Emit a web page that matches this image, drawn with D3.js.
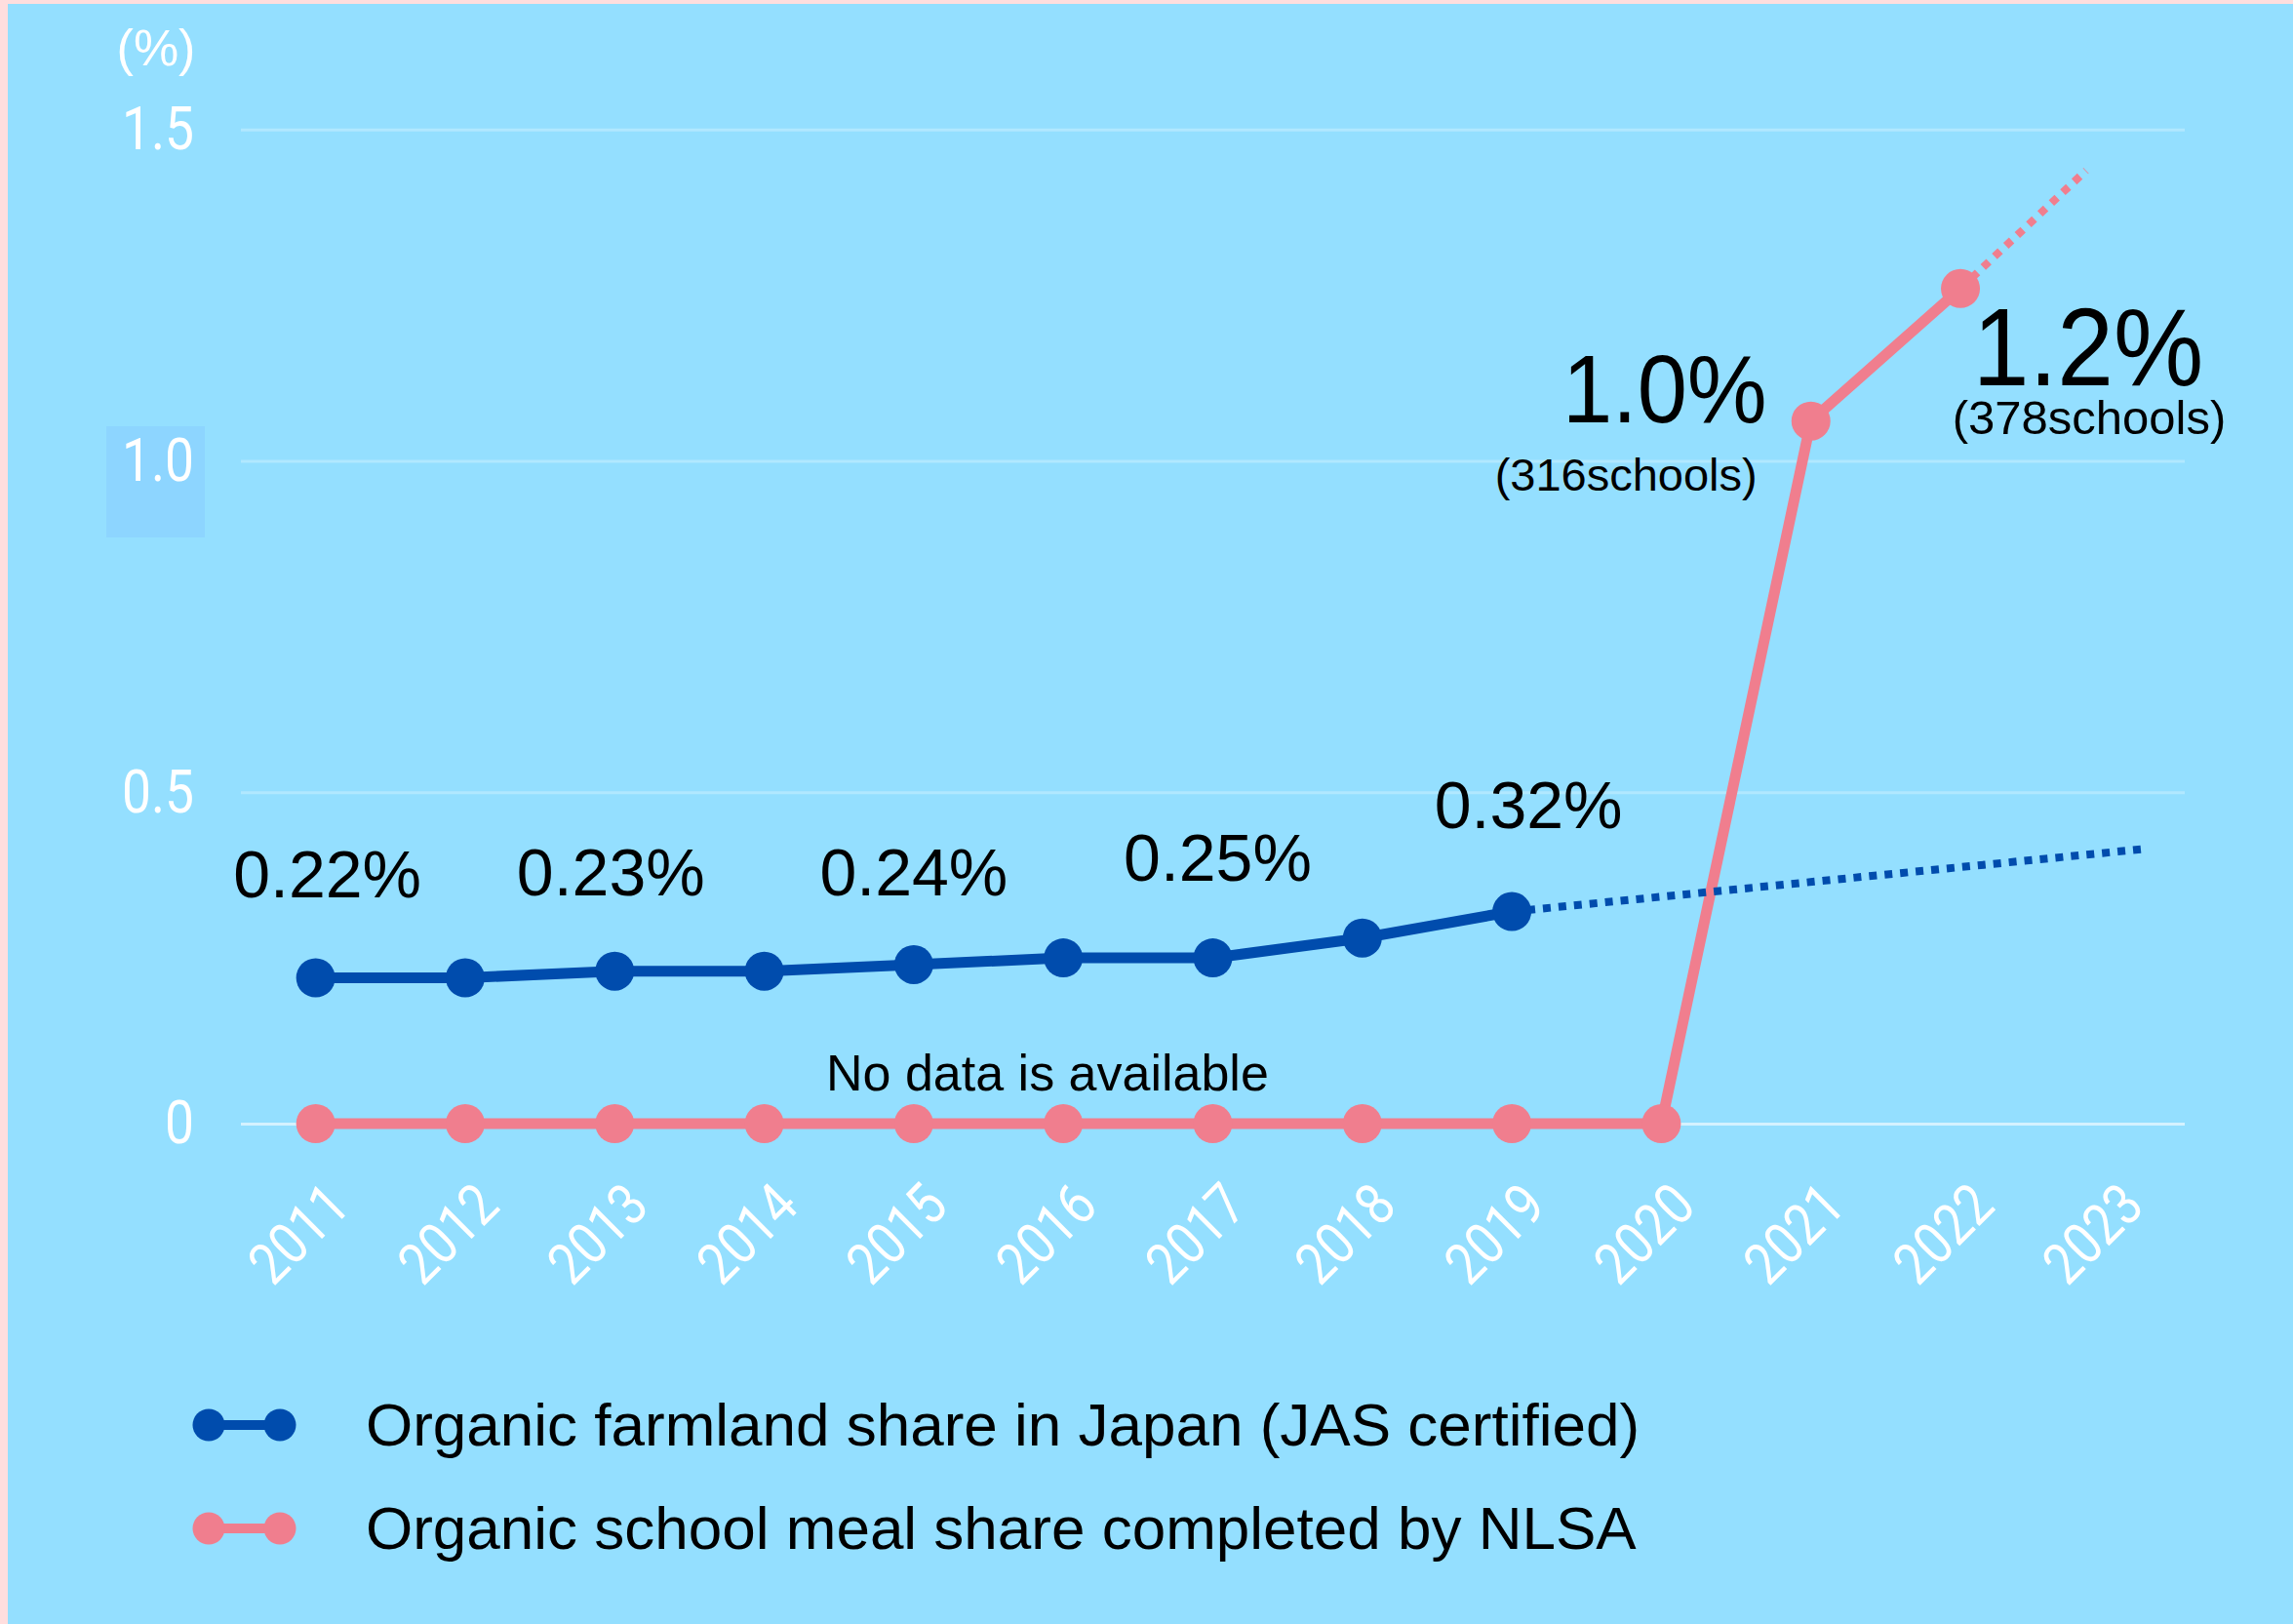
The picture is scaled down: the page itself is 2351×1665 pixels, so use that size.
<!DOCTYPE html>
<html><head><meta charset="utf-8">
<script src="https://cdn.jsdelivr.net/npm/d3@7"></script>
<style>
html,body{margin:0;padding:0;background:#FFDEDE;}
svg{display:block;}
</style>
</head><body>
<svg id="chart" width="2351" height="1665"></svg>
<script>
// ---------- data ----------
const years = [2011,2012,2013,2014,2015,2016,2017,2018,2019,2020,2021,2022,2023];
const farmlandYears = [2011,2012,2013,2014,2015,2016,2017,2018,2019];
const farmlandShare = [0.22,0.22,0.23,0.23,0.24,0.25,0.25,0.28,0.32];
const schoolYears = [2011,2012,2013,2014,2015,2016,2017,2018,2019,2020,2021,2022];
const schoolMealShare = [0,0,0,0,0,0,0,0,0,0,1.06,1.26];
const farmlandTrendYears = [2019, 2023.21];
const farmlandTrend = [0.32, 0.414];
const schoolTrendYears = [2022, 2022.84];
const schoolTrend = [1.26, 1.438];
const yTicks = [0, 0.5, 1.0, 1.5];
const yTickLabels = ["0", "0.5", "1.0", "1.5"];
const farmlandLabelYears = [2011, 2013, 2015, 2017, 2019];
const farmlandLabels = ["0.22%", "0.23%", "0.24%", "0.25%", "0.32%"];
const schoolLabelYears = [2021, 2022];
const schoolLabels = ["1.0%", "1.2%"];
const schoolCounts = ["(316schools)", "(378schools)"];
const seriesNames = ["Organic farmland share in Japan (JAS certified)", "Organic school meal share completed by NLSA"];
const noDataText = "No data is available";
const unitText = "(%)";

// ---------- layout / style ----------
const W = 2351, H = 1665;
const BLUE = "#004CAD", PINK = "#F07E8E", BG = "#94DFFF";
const labelNudge = [[12,-83],[-4,-78],[0,-71],[5,-79],[17,-86]];

const svg = d3.select("#chart");
svg.append("rect").attr("x", 8).attr("y", 4).attr("width", W - 8).attr("height", H - 4).attr("fill", BG);

const x = d3.scaleLinear().domain([2010.5, 2023.5]).range([247, 2240]);
const y = d3.scaleLinear().domain([0, 1.5]).range([1152, 132.7]);

// subtle highlight box behind "1.0"
svg.append("rect").attr("x", 109).attr("y", 437).attr("width", 101).attr("height", 114).attr("fill", "#8DD5FF");

// y axis with gridlines
const yAxis = d3.axisLeft(y).tickValues(yTicks)
  .tickFormat((d, i) => yTickLabels[i])
  .tickSize(-(2240 - 247)).tickPadding(48);
const gy = svg.append("g").attr("transform", "translate(247,0)").call(yAxis);
gy.select(".domain").remove();
gy.selectAll(".tick line")
  .attr("stroke", d => d === 0 ? "rgba(255,255,255,0.6)" : "rgba(255,255,255,0.28)")
  .attr("stroke-width", 3);
const ySx = 0.86;
gy.selectAll(".tick text")
  .attr("x", -48 / ySx)
  .attr("transform", `scale(${ySx},1)`)
  .attr("fill", "#fff")
  .attr("font-family", "Roboto")
  .attr("font-weight", 400)
  .attr("font-size", 62);

// unit label
svg.append("text").attr("x", 160).attr("y", 67).attr("text-anchor", "middle")
  .attr("font-family", "Liberation Sans").attr("font-size", 52).attr("fill", "#fff").text(unitText);

// x axis
const xAxis = d3.axisBottom(x).tickValues(years).tickFormat(d3.format("d")).tickSize(0);
const gx = svg.append("g").attr("transform", "translate(0,1152)").call(xAxis);
gx.select(".domain").remove();
gx.selectAll(".tick text")
  .attr("x", 0).attr("y", 0).attr("dy", 0)
  .attr("text-anchor", "end")
  .attr("transform", "translate(37,87) rotate(-45) scale(0.85,1)")
  .attr("fill", "#fff")
  .attr("font-family", "Roboto")
  .attr("font-size", 60);

const line = d3.line().x(d => x(d[0])).y(d => y(d[1]));

const schoolPts = schoolYears.map((yr, i) => [yr, schoolMealShare[i]]);
const farmPts = farmlandYears.map((yr, i) => [yr, farmlandShare[i]]);
const schoolTrendPts = schoolTrendYears.map((yr, i) => [yr, schoolTrend[i]]);
const farmTrendPts = farmlandTrendYears.map((yr, i) => [yr, farmlandTrend[i]]);

// pink series
svg.append("path").attr("d", line(schoolTrendPts)).attr("fill", "none")
  .attr("stroke", PINK).attr("stroke-width", 8).attr("stroke-dasharray", "8 8");
svg.append("path").attr("d", line(schoolPts)).attr("fill", "none")
  .attr("stroke", PINK).attr("stroke-width", 11).attr("stroke-linejoin", "round");

// blue series
svg.append("path").attr("d", line(farmTrendPts)).attr("fill", "none")
  .attr("stroke", BLUE).attr("stroke-width", 8).attr("stroke-dasharray", "8 8");
svg.append("path").attr("d", line(farmPts)).attr("fill", "none")
  .attr("stroke", BLUE).attr("stroke-width", 11).attr("stroke-linejoin", "round");

svg.append("g").selectAll("circle").data(schoolPts).join("circle")
  .attr("cx", d => x(d[0])).attr("cy", d => y(d[1])).attr("r", 20).attr("fill", PINK);
svg.append("g").selectAll("circle").data(farmPts).join("circle")
  .attr("cx", d => x(d[0])).attr("cy", d => y(d[1])).attr("r", 20).attr("fill", BLUE);

// farmland value labels
svg.append("g").selectAll("text").data(farmlandLabelYears).join("text")
  .attr("x", (yr, i) => x(yr) + labelNudge[i][0])
  .attr("y", (yr, i) => y(farmlandShare[farmlandYears.indexOf(yr)]) + labelNudge[i][1])
  .attr("text-anchor", "middle")
  .attr("font-family", "Liberation Sans").attr("font-size", 68).attr("fill", "#000")
  .text((yr, i) => farmlandLabels[i]);

// school labels
const v2021 = schoolMealShare[schoolYears.indexOf(schoolLabelYears[0])];
const v2022 = schoolMealShare[schoolYears.indexOf(schoolLabelYears[1])];
svg.append("text")
  .attr("transform", `translate(${x(schoolLabelYears[0]) - 45},${y(v2021) + 1}) scale(0.93,1)`)
  .attr("text-anchor", "end").attr("font-family", "Liberation Sans").attr("font-size", 99)
  .attr("fill", "#000").text(schoolLabels[0]);
svg.append("text")
  .attr("x", x(schoolLabelYears[0]) - 55).attr("y", y(v2021) + 71)
  .attr("text-anchor", "end").attr("font-family", "Liberation Sans").attr("font-size", 47)
  .attr("fill", "#000").text(schoolCounts[0]);
svg.append("text")
  .attr("transform", `translate(${x(schoolLabelYears[1]) + 131},${y(v2022) + 99}) scale(0.91,1)`)
  .attr("text-anchor", "middle").attr("font-family", "Liberation Sans").attr("font-size", 114)
  .attr("fill", "#000").text(schoolLabels[1]);
svg.append("text")
  .attr("x", x(schoolLabelYears[1]) + 132).attr("y", y(v2022) + 149)
  .attr("text-anchor", "middle").attr("font-family", "Liberation Sans").attr("font-size", 49)
  .attr("fill", "#000").text(schoolCounts[1]);

// no data note
svg.append("text").attr("x", 847).attr("y", 1118)
  .attr("font-family", "Liberation Sans").attr("font-size", 52).attr("fill", "#000").text(noDataText);

// legend
const legendColors = [BLUE, PINK];
const legendY = [1461, 1567];
const lg = svg.append("g");
seriesNames.forEach((name, i) => {
  const g = lg.append("g").attr("transform", `translate(0,${legendY[i]})`);
  g.append("line").attr("x1", 214).attr("x2", 287).attr("y1", 0).attr("y2", 0)
    .attr("stroke", legendColors[i]).attr("stroke-width", 10);
  g.append("circle").attr("cx", 214).attr("cy", 0).attr("r", 16.5).attr("fill", legendColors[i]);
  g.append("circle").attr("cx", 287).attr("cy", 0).attr("r", 16.5).attr("fill", legendColors[i]);
  g.append("text").attr("x", 375).attr("y", 21)
    .attr("font-family", "Liberation Sans").attr("font-size", 62).attr("fill", "#000").text(name);
});
</script>
</body></html>
